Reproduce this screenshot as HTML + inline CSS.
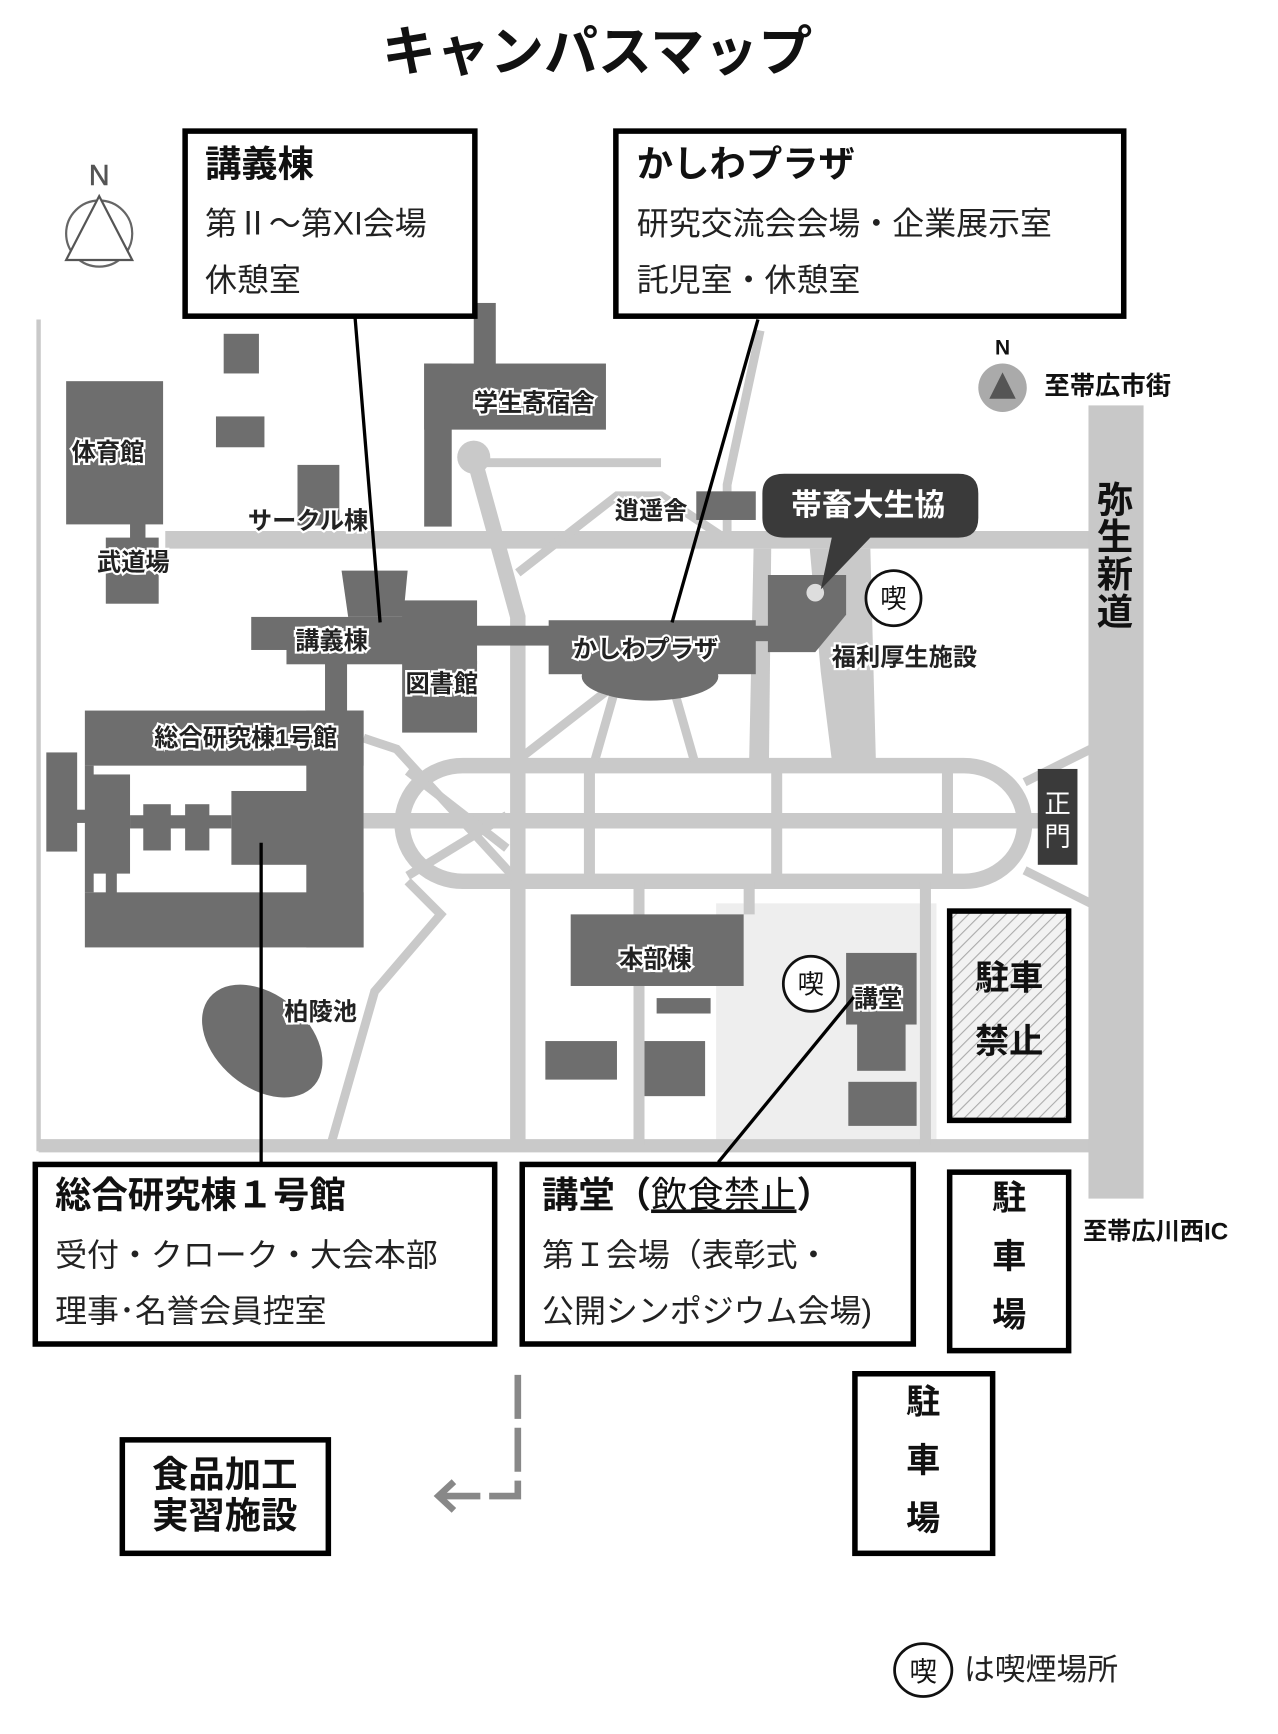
<!DOCTYPE html>
<html><head><meta charset="utf-8"><style>
html,body{margin:0;padding:0;background:#fff;}
svg{display:block;}
text{font-family:"Liberation Sans","Noto Sans CJK JP",sans-serif;}
.lbl{font-size:22px;font-weight:bold;fill:#222;stroke:#fff;stroke-width:4px;paint-order:stroke;}
.bx{fill:#fff;stroke:#000;stroke-width:5;}
.h{font-size:33px;font-weight:bold;fill:#111;}
.t{font-size:29px;fill:#222;}
.r{stroke:#c9c9c9;fill:none;}
.b{fill:#6e6e6e;}
</style></head><body>
<svg width="1278" height="1734" viewBox="0 0 1160 1574" xmlns="http://www.w3.org/2000/svg">
<defs><pattern id="hatch" width="8" height="8" patternUnits="userSpaceOnUse" patternTransform="rotate(45)"><rect width="8" height="8" fill="#f2f2f2"/><line x1="0" y1="0" x2="0" y2="8" stroke="#aaa" stroke-width="2"/></pattern></defs>
<text x="542" y="64" text-anchor="middle" font-size="49" font-weight="bold" fill="#111">キャンパスマップ</text>
<!-- compass top-left -->
<text x="90" y="168" text-anchor="middle" font-size="26" fill="#555" stroke="#555" stroke-width="0.5">N</text>
<circle cx="90" cy="212" r="30" fill="none" stroke="#666" stroke-width="2"/>
<polygon points="90,178 60,236 120,236" fill="#fff" stroke="#555" stroke-width="2"/>
<rect x="650" y="820" width="200" height="215" fill="#eeeeee"/>
<!-- roads -->
<g class="r">
<line x1="150" y1="490" x2="990" y2="490" stroke-width="16"/>
<line x1="35" y1="1040" x2="990" y2="1040" stroke-width="12"/>
<rect x="365" y="695" width="565" height="105" rx="55" stroke-width="14"/>
<line x1="330" y1="745" x2="945" y2="745" stroke-width="14"/>
<polyline points="430,415 470,560 470,1040" stroke-width="14"/>
<line x1="535" y1="700" x2="535" y2="795" stroke-width="10"/>
<line x1="705" y1="700" x2="705" y2="795" stroke-width="10"/>
<line x1="860" y1="700" x2="860" y2="795" stroke-width="10"/>
<line x1="580" y1="800" x2="580" y2="1040" stroke-width="10"/>
<line x1="840" y1="800" x2="840" y2="1040" stroke-width="10"/>
<line x1="680" y1="800" x2="680" y2="830" stroke-width="10"/>
<polyline points="470,520 560,450 600,450 660,490" stroke-width="8"/>
<polyline points="440,420 600,420" stroke-width="8"/>
<polyline points="660,490 660,440 690,300" stroke-width="8"/>
<polyline points="330,670 360,680 470,800" stroke-width="8"/>
<line x1="470" y1="690" x2="560" y2="620" stroke-width="8"/>
<line x1="540" y1="690" x2="560" y2="620" stroke-width="8"/>
<line x1="630" y1="690" x2="610" y2="620" stroke-width="8"/>
<line x1="370" y1="700" x2="460" y2="770" stroke-width="8"/>
<line x1="370" y1="795" x2="460" y2="740" stroke-width="8"/>
<polyline points="300,1040 340,900 400,830 370,800" stroke-width="8"/>
<line x1="930" y1="710" x2="990" y2="680" stroke-width="8"/>
<line x1="930" y1="790" x2="990" y2="820" stroke-width="8"/>
<line x1="35" y1="290" x2="35" y2="1045" stroke-width="4"/>
</g>
<circle cx="430" cy="415" r="15" fill="#c9c9c9"/>
<polygon points="684,498 700,498 698,690 680,690" fill="#c9c9c9"/>
<polygon points="735,498 790,498 795,690 755,690 745,610" fill="#c9c9c9"/>
<rect x="988" y="368" width="50" height="720" fill="#c8c8c8"/>
<!-- buildings -->
<g class="b">
<rect x="60" y="346" width="88" height="130"/>
<rect x="118" y="475" width="14" height="14"/>
<rect x="96" y="488" width="48" height="60"/>
<rect x="203" y="303" width="32" height="36"/>
<rect x="196" y="378" width="44" height="28"/>
<rect x="270" y="422" width="38" height="55"/>
<rect x="430" y="275" width="20" height="60"/>
<rect x="385" y="330" width="165" height="60"/>
<rect x="385" y="330" width="25" height="148"/>
<polygon points="310,518 370,518 366,560 316,560"/>
<rect x="228" y="560" width="150" height="30"/>
<rect x="260" y="585" width="110" height="18"/>
<rect x="365" y="545" width="68" height="58"/>
<rect x="365" y="600" width="68" height="65"/>
<rect x="430" y="568" width="72" height="18"/>
<rect x="295" y="600" width="20" height="50"/>
<rect x="498" y="563" width="188" height="49"/>
<ellipse cx="590" cy="614" rx="62" ry="22"/>
<rect x="684" y="568" width="14" height="14"/>
<polygon points="697,522 768,522 768,558 740,592 697,592"/>
<rect x="632" y="446" width="54" height="26"/>
<rect x="77" y="645" width="253" height="50"/>
<rect x="278" y="645" width="52" height="215"/>
<rect x="77" y="810" width="253" height="50"/>
<rect x="80" y="703" width="38" height="90"/>
<rect x="77" y="695" width="8" height="115"/>
<rect x="42" y="683" width="28" height="90"/>
<rect x="68" y="735" width="14" height="12"/>
<rect x="118" y="740" width="92" height="12"/>
<rect x="130" y="730" width="25" height="42"/>
<rect x="168" y="730" width="22" height="42"/>
<rect x="210" y="718" width="70" height="67"/>
<rect x="96" y="790" width="10" height="22"/>
<ellipse cx="238" cy="945" rx="62" ry="42" transform="rotate(40 238 945)"/>
<rect x="518" y="830" width="157" height="65"/>
<rect x="596" y="906" width="49" height="14"/>
<rect x="495" y="945" width="65" height="35"/>
<rect x="585" y="945" width="55" height="50"/>
<rect x="768" y="865" width="64" height="65"/>
<rect x="778" y="928" width="44" height="44"/>
<rect x="770" y="982" width="62" height="40"/>
</g>
<circle cx="740" cy="538" r="8" fill="#ddd"/>
<!-- callout -->
<path d="M712,430 H870 Q888,430 888,448 V470 Q888,488 870,488 H790 L745,535 L755,488 H712 Q692,488 692,470 V448 Q692,430 712,430 Z" fill="#3a3a3a"/>
<text x="788" y="468" text-anchor="middle" font-size="28" font-weight="bold" fill="#fff">帯畜大生協</text>
<!-- 正門 -->
<rect x="942" y="698" width="36" height="87" fill="#3a3a3a"/>
<text x="960" y="738" text-anchor="middle" font-size="24" fill="#fff">正</text>
<text x="960" y="768" text-anchor="middle" font-size="24" fill="#fff">門</text>
<!-- map labels -->
<text class="lbl" x="65" y="418">体育館</text>
<text class="lbl" x="225" y="480">サークル棟</text>
<text class="lbl" x="88" y="518">武道場</text>
<text class="lbl" x="430" y="373">学生寄宿舎</text>
<text class="lbl" x="558" y="471">逍遥舎</text>
<text class="lbl" x="268" y="589">講義棟</text>
<text class="lbl" x="368" y="628">図書館</text>
<text class="lbl" x="520" y="597">かしわプラザ</text>
<text class="lbl" x="140" y="677">総合研究棟1号館</text>
<text class="lbl" x="258" y="926">柏陵池</text>
<text class="lbl" x="562" y="878">本部棟</text>
<text class="lbl" x="775" y="914">講堂</text>
<text class="lbl" x="755" y="604">福利厚生施設</text>
<!-- smoking -->
<circle cx="811" cy="543" r="25" fill="#fff" stroke="#111" stroke-width="2.5"/>
<text x="811" y="552" text-anchor="middle" font-size="24" fill="#111">喫</text>
<circle cx="736" cy="893" r="25" fill="#fff" stroke="#111" stroke-width="2.5"/>
<text x="736" y="902" text-anchor="middle" font-size="24" fill="#111">喫</text>
<!-- compass right -->
<text x="910" y="322" text-anchor="middle" font-size="19" font-weight="bold" fill="#111">N</text>
<circle cx="910" cy="352" r="22" fill="#aaa"/>
<polygon points="910,338 898,362 922,362" fill="#555"/>
<text x="948" y="358" font-size="23" font-weight="bold" fill="#111">至帯広市街</text>
<g font-size="33" font-weight="bold" fill="#111" text-anchor="middle">
<text x="1012" y="465">弥</text><text x="1012" y="499">生</text><text x="1012" y="533">新</text><text x="1012" y="567">道</text>
</g>
<!-- 駐車禁止 -->
<rect x="862" y="827" width="108" height="190" fill="url(#hatch)" stroke="#000" stroke-width="5"/>
<text x="916" y="898" text-anchor="middle" font-size="31" font-weight="bold" fill="#111">駐車</text>
<text x="916" y="956" text-anchor="middle" font-size="31" font-weight="bold" fill="#111">禁止</text>
<!-- leader lines -->
<g stroke="#000" stroke-width="3">
<line x1="322" y1="285" x2="345" y2="565"/>
<line x1="688" y1="290" x2="610" y2="565"/>
<line x1="237" y1="765" x2="237" y2="1055"/>
<line x1="652" y1="1055" x2="775" y2="905"/>
</g>
<!-- top boxes -->
<rect class="bx" x="168" y="119" width="263" height="168"/>
<text class="h" x="186" y="160">講義棟</text>
<text class="t" x="186" y="213">第Ⅱ～第XI会場</text>
<text class="t" x="186" y="264">休憩室</text>
<rect class="bx" x="559" y="119" width="461" height="168"/>
<text class="h" x="578" y="160">かしわプラザ</text>
<text class="t" x="578" y="213">研究交流会会場・企業展示室</text>
<text class="t" x="578" y="264">託児室・休憩室</text>
<!-- bottom boxes -->
<rect class="bx" x="32" y="1057" width="417" height="163"/>
<text class="h" x="50" y="1096">総合研究棟１号館</text>
<text class="t" x="50" y="1149">受付・クローク・大会本部</text>
<text class="t" x="50" y="1200">理事･名誉会員控室</text>
<rect class="bx" x="474" y="1057" width="355" height="163"/>
<text class="h" x="492" y="1096">講堂（<tspan font-weight="normal" text-decoration="underline">飲食禁止</tspan>）</text>
<text class="t" x="492" y="1149">第Ｉ会場（表彰式・</text>
<text class="t" x="492" y="1200">公開シンポジウム会場)</text>
<rect class="bx" x="862" y="1064" width="108" height="162"/>
<rect class="bx" x="776" y="1247" width="125" height="163"/>
<g font-size="31" font-weight="bold" fill="#111" text-anchor="middle">
<text x="916" y="1098">駐</text><text x="916" y="1151">車</text><text x="916" y="1204">場</text>
<text x="838" y="1283">駐</text><text x="838" y="1336">車</text><text x="838" y="1389">場</text>
</g>
<text x="983" y="1125" font-size="22" font-weight="bold" fill="#111">至帯広川西IC</text>
<rect class="bx" x="111" y="1307" width="187" height="103"/>
<text x="204" y="1350" text-anchor="middle" font-size="33" font-weight="bold" fill="#111">食品加工</text>
<text x="204" y="1387" text-anchor="middle" font-size="33" font-weight="bold" fill="#111">実習施設</text>
<!-- arrow -->
<polyline points="470,1248 470,1358 400,1358" fill="none" stroke="#888" stroke-width="6" stroke-dasharray="40,8"/>
<polyline points="412,1345 398,1358 412,1371" fill="none" stroke="#888" stroke-width="6"/>
<!-- legend -->
<ellipse cx="838" cy="1516" rx="26" ry="24" fill="#fff" stroke="#111" stroke-width="2.5"/>
<text x="838" y="1526" text-anchor="middle" font-size="25" fill="#111">喫</text>
<text x="875" y="1525" font-size="28" fill="#222">は喫煙場所</text>
</svg>
</body></html>
